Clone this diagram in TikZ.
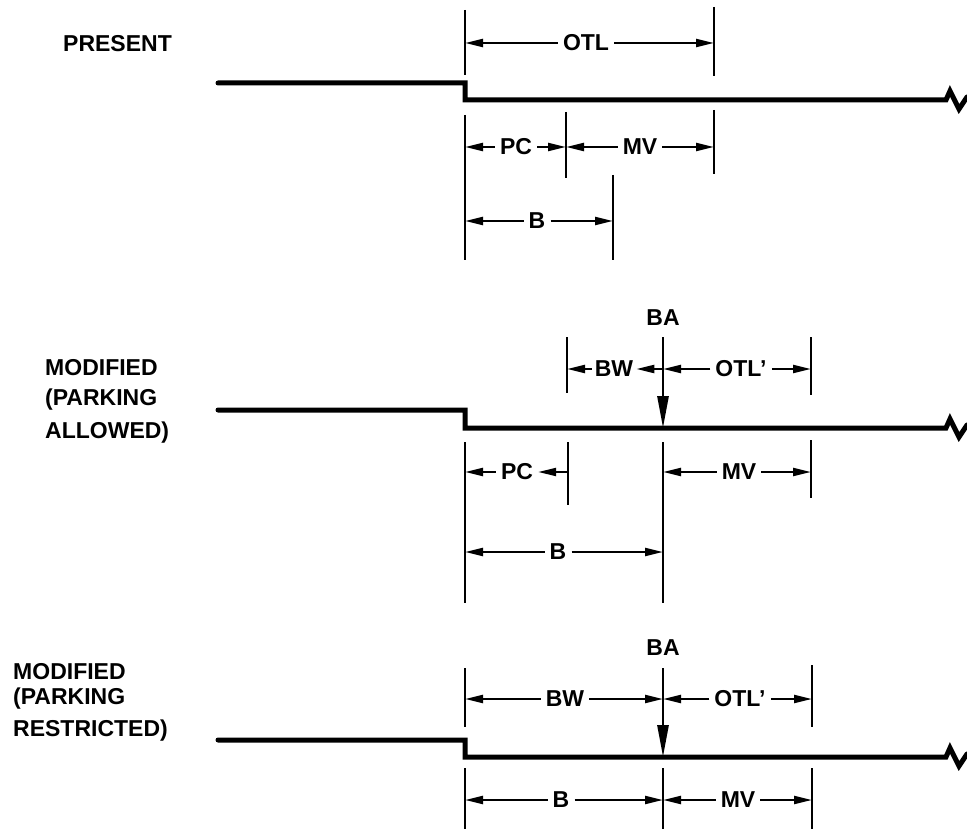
\documentclass[tikz,border=0pt]{standalone}
\usepackage{fontspec}
\setmainfont{Liberation Sans}
\usetikzlibrary{arrows.meta}
\begin{document}
\begin{tikzpicture}[x=1pt,y=-1pt,
  road/.style={line width=5pt, line cap=round, line join=miter},
  tickl/.style={line width=2.6pt},
  dim/.style={line width=2.2pt, -{Triangle[length=18pt,width=8pt]}},
  dimrev/.style={line width=2.2pt, {Triangle[length=18pt,width=8pt]}-},
  baarr/.style={line width=2.8pt, -{Triangle[length=32pt,width=11pt]}},
  lbl/.style={font=\fontsize{23}{27}\selectfont\bfseries, inner sep=5pt},
  side/.style={font=\fontsize{23}{27}\selectfont\bfseries, inner sep=0pt, anchor=west}]
\useasboundingbox (0,0) rectangle (967,829);

% ---------------- PRESENT ----------------
\node[side] (present) at (63,44) {PRESENT};
\draw[road] (218,83) -- (465,83) -- (465,100) -- (946,100) -- (950,91) -- (959,109) -- (967,97);

\coordinate (s1a) at (465,10);  \coordinate (s1b) at (465,75);
\coordinate (s1c) at (714,7);   \coordinate (s1d) at (714,76);
\draw[tickl] (s1a) -- (s1b);
\draw[tickl] (s1c) -- (s1d);
\node[lbl] (otl1) at (586,43) {OTL};
\draw[dim] (otl1.west) -- (otl1.west -| s1a);
\draw[dim] (otl1.east) -- (otl1.east -| s1c);

\coordinate (s1e) at (465,115); \coordinate (s1f) at (465,260);
\coordinate (s1g) at (566,112); \coordinate (s1h) at (566,178);
\coordinate (s1i) at (714,110); \coordinate (s1j) at (714,174);
\coordinate (s1k) at (613,175); \coordinate (s1l) at (613,260);
\draw[tickl] (s1e) -- (s1f);
\draw[tickl] (s1g) -- (s1h);
\draw[tickl] (s1i) -- (s1j);
\draw[tickl] (s1k) -- (s1l);
\node[lbl] (pc1) at (516,147) {PC};
\draw[dim] (pc1.west) -- (pc1.west -| s1e);
\draw[dim] (pc1.east) -- (pc1.east -| s1g);
\node[lbl] (mv1) at (640,147) {MV};
\draw[dim] (mv1.west) -- (mv1.west -| s1g);
\draw[dim] (mv1.east) -- (mv1.east -| s1i);
\node[lbl] (b1) at (537,221) {B};
\draw[dim] (b1.west) -- (b1.west -| s1e);
\draw[dim] (b1.east) -- (b1.east -| s1k);

% ---------------- MODIFIED (PARKING ALLOWED) ----------------
\node[side] (m2a) at (45,368) {MODIFIED};
\node[side] (m2b) at (45,400) {(PARKING};
\node[side] (m2c) at (45,433) {ALLOWED)};
\draw[road] (218,410) -- (465,410) -- (465,428) -- (946,428) -- (950,419) -- (959,437) -- (967,425);

\node[lbl] (ba2) at (663,318) {BA};
\coordinate (s2a) at (567,337); \coordinate (s2b) at (567,393);
\coordinate (s2c) at (663,337); \coordinate (s2d) at (663,428);
\coordinate (s2e) at (811,337); \coordinate (s2f) at (811,395);
\draw[tickl] (s2a) -- (s2b);
\draw[baarr] (s2c) -- (s2d);
\draw[tickl] (s2e) -- (s2f);
\node[lbl, inner sep=3pt] (bw2) at (614,369) {BW};
\draw[dim] (bw2.west) -- (bw2.west -| s2a);
\draw[dimrev] (bw2.east) -- (bw2.east -| s2c);
\node[lbl] (otlp2) at (741,369) {OTL’};
\draw[dim] (otlp2.west) -- (otlp2.west -| s2c);
\draw[dim] (otlp2.east) -- (otlp2.east -| s2e);

\coordinate (s2g) at (465,442); \coordinate (s2h) at (465,603);
\coordinate (s2i) at (568,442); \coordinate (s2j) at (568,505);
\coordinate (s2k) at (663,442); \coordinate (s2l) at (663,603);
\coordinate (s2m) at (811,440); \coordinate (s2n) at (811,498);
\draw[tickl] (s2g) -- (s2h);
\draw[tickl] (s2i) -- (s2j);
\draw[tickl] (s2k) -- (s2l);
\draw[tickl] (s2m) -- (s2n);
\node[lbl] (pc2) at (517,472) {PC};
\draw[dim] (pc2.west) -- (pc2.west -| s2g);
\draw[dimrev] (pc2.east) -- (pc2.east -| s2i);
\node[lbl] (mv2) at (739,472) {MV};
\draw[dim] (mv2.west) -- (mv2.west -| s2k);
\draw[dim] (mv2.east) -- (mv2.east -| s2m);
\node[lbl] (b2) at (558,552) {B};
\draw[dim] (b2.west) -- (b2.west -| s2g);
\draw[dim] (b2.east) -- (b2.east -| s2k);

% ---------------- MODIFIED (PARKING RESTRICTED) ----------------
\node[side] (m3a) at (13,672) {MODIFIED};
\node[side] (m3b) at (13,699) {(PARKING};
\node[side] (m3c) at (13,731) {RESTRICTED)};
\draw[road] (218,740) -- (465,740) -- (465,757) -- (946,757) -- (950,748) -- (959,766) -- (967,754);

\node[lbl] (ba3) at (663,648) {BA};
\coordinate (s3a) at (465,668); \coordinate (s3b) at (465,727);
\coordinate (s3c) at (663,668); \coordinate (s3d) at (663,757);
\coordinate (s3e) at (812,665); \coordinate (s3f) at (812,727);
\draw[tickl] (s3a) -- (s3b);
\draw[baarr] (s3c) -- (s3d);
\draw[tickl] (s3e) -- (s3f);
\node[lbl] (bw3) at (565,699) {BW};
\draw[dim] (bw3.west) -- (bw3.west -| s3a);
\draw[dim] (bw3.east) -- (bw3.east -| s3c);
\node[lbl] (otlp3) at (740,699) {OTL’};
\draw[dim] (otlp3.west) -- (otlp3.west -| s3c);
\draw[dim] (otlp3.east) -- (otlp3.east -| s3e);

\coordinate (s3g) at (465,768); \coordinate (s3h) at (465,829);
\coordinate (s3i) at (663,768); \coordinate (s3j) at (663,829);
\coordinate (s3k) at (812,768); \coordinate (s3l) at (812,829);
\draw[tickl] (s3g) -- (s3h);
\draw[tickl] (s3i) -- (s3j);
\draw[tickl] (s3k) -- (s3l);
\node[lbl] (b3) at (561,800) {B};
\draw[dim] (b3.west) -- (b3.west -| s3g);
\draw[dim] (b3.east) -- (b3.east -| s3i);
\node[lbl] (mv3) at (738,800) {MV};
\draw[dim] (mv3.west) -- (mv3.west -| s3i);
\draw[dim] (mv3.east) -- (mv3.east -| s3k);
\end{tikzpicture}
\end{document}
